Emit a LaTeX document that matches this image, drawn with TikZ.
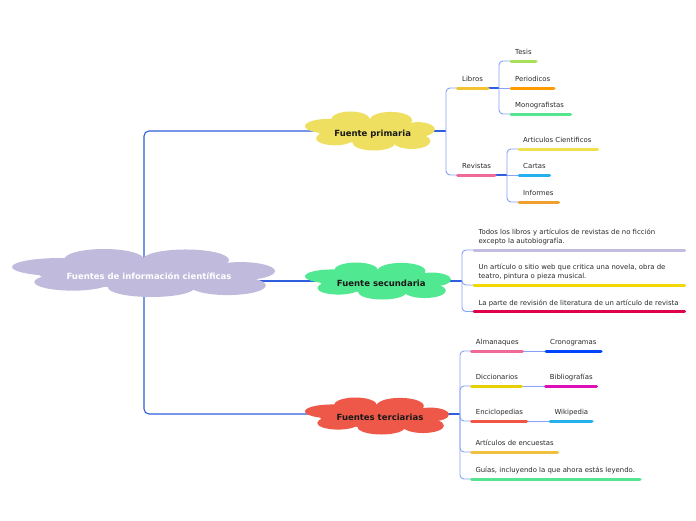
\documentclass[tikz,border=0pt]{standalone}
\usepackage{fontspec}
\setmainfont{DejaVu Sans}
\definecolor{mainblue}{HTML}{2F5FE0}
\definecolor{subblue}{HTML}{86A2F4}
\definecolor{labeltext}{HTML}{2A2A2A}
\definecolor{cCentral}{HTML}{C0BADC}
\definecolor{cPrim}{HTML}{EEDF60}
\definecolor{cSec}{HTML}{50E890}
\definecolor{cTer}{HTML}{EE5848}
\definecolor{uYellowOr}{HTML}{F2C233}
\definecolor{uLime}{HTML}{A8E05C}
\definecolor{uOrange}{HTML}{FF9A00}
\definecolor{uGreen}{HTML}{55E590}
\definecolor{uPink}{HTML}{F06A99}
\definecolor{uYellow}{HTML}{F0E050}
\definecolor{uCyan}{HTML}{25B0EE}
\definecolor{uOrange2}{HTML}{F0A030}
\definecolor{uLav}{HTML}{C2BDE0}
\definecolor{uGold}{HTML}{F0D800}
\definecolor{uCrimson}{HTML}{E0004A}
\definecolor{uBlue}{HTML}{0044FF}
\definecolor{uYellow2}{HTML}{E8D000}
\definecolor{uMagenta}{HTML}{E010B8}
\definecolor{uRed}{HTML}{F05545}
\definecolor{uMustard}{HTML}{F0C040}
\newcommand{\cloudshape}[5]{%
  \fill[#5] ({#1-0.63*#3},{#2-0.25*#4}) ellipse [x radius={0.37*#3*1pt}, y radius={0.375*#4*1pt}];
  \fill[#5] ({#1-0.30*#3},{#2-0.58*#4}) ellipse [x radius={0.30*#3*1pt}, y radius={0.42*#4*1pt}];
  \fill[#5] ({#1+0.32*#3},{#2-0.54*#4}) ellipse [x radius={0.33*#3*1pt}, y radius={0.44*#4*1pt}];
  \fill[#5] ({#1+0.74*#3},{#2-0.08*#4}) ellipse [x radius={0.26*#3*1pt}, y radius={0.375*#4*1pt}];
  \fill[#5] ({#1-0.54*#3},{#2+0.375*#4}) ellipse [x radius={0.29*#3*1pt}, y radius={0.36*#4*1pt}];
  \fill[#5] ({#1+0.06*#3},{#2+0.60*#4}) ellipse [x radius={0.33*#3*1pt}, y radius={0.40*#4*1pt}];
  \fill[#5] ({#1+0.64*#3},{#2+0.52*#4}) ellipse [x radius={0.29*#3*1pt}, y radius={0.40*#4*1pt}];
  \fill[#5] (#1,#2) ellipse [x radius={0.80*#3*1pt}, y radius={0.62*#4*1pt}];
}
\begin{document}
\begin{tikzpicture}[x=1pt,y=-1pt,
  mainline/.style={draw=mainblue, line width=1.1pt},
  subline/.style={draw=subblue, line width=0.9pt, rounded corners=4pt},
  ul/.style={line width=3pt, line cap=round},
  lbl/.style={anchor=base west, inner sep=0pt, text=labeltext, font=\fontsize{6.9}{9}\selectfont},
  lbltwo/.style={anchor=south west, inner sep=0pt, text=labeltext, align=left, font=\fontsize{6.9}{9}\selectfont},
  titletext/.style={anchor=base, inner sep=0pt, font=\bfseries\fontsize{8.5}{10}\selectfont}]
\useasboundingbox (0,0) rectangle (696,520);
\fill[white] (0,0) rectangle (696,520);

% ---- coordinates
\coordinate (hub) at (144,273);
\coordinate (primC) at (370,131);
\coordinate (secC) at (378,281);
\coordinate (terC) at (377,414);
\coordinate (jP) at (446,131);
\coordinate (jS) at (462,281);
\coordinate (jT) at (460,414);
\coordinate (jL) at (499,88);
\coordinate (jR) at (507,175);

% underline end points
\coordinate (librosL) at (457.5,88);   \coordinate (librosR) at (488,88);
\coordinate (tesisL) at (511,61);      \coordinate (tesisR) at (536,61);
\coordinate (perL) at (511,88);        \coordinate (perR) at (554,88);
\coordinate (monoL) at (511,114);      \coordinate (monoR) at (570.5,114);
\coordinate (revL) at (457.5,175);     \coordinate (revR) at (495,175);
\coordinate (artL) at (519,149);       \coordinate (artR) at (597.5,149);
\coordinate (carL) at (519,175);       \coordinate (carR) at (549.5,175);
\coordinate (infL) at (519,202);       \coordinate (infR) at (558.5,202);
\coordinate (s1L) at (474,250);        \coordinate (s1R) at (684.5,250);
\coordinate (s2L) at (474,285);        \coordinate (s2R) at (684.5,285);
\coordinate (s3L) at (474,311.5);      \coordinate (s3R) at (684.5,311.5);
\coordinate (almL) at (471.5,351);     \coordinate (almR) at (522.5,351);
\coordinate (croL) at (546,351);       \coordinate (croR) at (601,351);
\coordinate (dicL) at (471.5,386);     \coordinate (dicR) at (521.5,386);
\coordinate (bibL) at (545.5,386);     \coordinate (bibR) at (596.5,386);
\coordinate (encL) at (471.5,421);     \coordinate (encR) at (526.5,421);
\coordinate (wikL) at (550,421);       \coordinate (wikR) at (592,421);
\coordinate (aenL) at (471.5,452);     \coordinate (aenR) at (557.5,452);
\coordinate (guiL) at (471.5,479);     \coordinate (guiR) at (640,479);

% ---- connectors
\draw[mainline, rounded corners=5pt] (hub) |- (primC);
\draw[mainline, rounded corners=5pt] (hub) |- (terC);
\draw[mainline] (hub |- secC) -- (secC);

\draw[mainline] (primC) -- (jP);
\draw[subline] (jP) |- (librosL);
\draw[subline] (jP) |- (revL);
\draw[mainline] (librosR) -- (jL);
\draw[subline] (jL) |- (tesisL);
\draw[subline] (jL) |- (monoL);
\draw[subline] (jL) -- (perL);
\draw[mainline] (revR) -- (jR);
\draw[subline] (jR) |- (artL);
\draw[subline] (jR) |- (infL);
\draw[subline] (jR) -- (carL);

\draw[mainline] (secC) -- (jS);
\draw[subline] (jS) |- (s1L);
\draw[subline] (jS) |- (s2L);
\draw[subline] (jS) |- (s3L);

\draw[mainline] (terC) -- (jT);
\draw[subline] (jT) |- (almL);
\draw[subline] (jT) |- (dicL);
\draw[subline] (jT) |- (encL);
\draw[subline] (jT) |- (aenL);
\draw[subline] (jT) |- (guiL);
\draw[subline] (almR) -- (croL);
\draw[subline] (dicR) -- (bibL);
\draw[subline] (encR) -- (wikL);

% ---- underlines
\draw[ul, draw=uYellowOr] (librosL) -- (librosR);
\draw[ul, draw=uLime] (tesisL) -- (tesisR);
\draw[ul, draw=uOrange] (perL) -- (perR);
\draw[ul, draw=uGreen] (monoL) -- (monoR);
\draw[ul, draw=uPink] (revL) -- (revR);
\draw[ul, draw=uYellow] (artL) -- (artR);
\draw[ul, draw=uCyan] (carL) -- (carR);
\draw[ul, draw=uOrange2] (infL) -- (infR);
\draw[ul, draw=uLav] (s1L) -- (s1R);
\draw[ul, draw=uGold] (s2L) -- (s2R);
\draw[ul, draw=uCrimson] (s3L) -- (s3R);
\draw[ul, draw=uPink] (almL) -- (almR);
\draw[ul, draw=uBlue] (croL) -- (croR);
\draw[ul, draw=uYellow2] (dicL) -- (dicR);
\draw[ul, draw=uMagenta] (bibL) -- (bibR);
\draw[ul, draw=uRed] (encL) -- (encR);
\draw[ul, draw=uCyan] (wikL) -- (wikR);
\draw[ul, draw=uMustard] (aenL) -- (aenR);
\draw[ul, draw=uGreen] (guiL) -- (guiR);

% ---- clouds
\cloudshape{143.5}{273}{131.5}{24}{cCentral}
\cloudshape{370}{131}{65}{19.5}{cPrim}
\cloudshape{378}{281}{73}{18.5}{cSec}
\cloudshape{377}{416}{72}{18.5}{cTer}

\node[titletext, text=white] (central) at (149,279.3) {Fuentes de información científicas};
\node[titletext, text=black!90] (prim) at (372.7,136.7) {Fuente primaria};
\node[titletext, text=black!90] (sec) at (381.3,286.7) {Fuente secundaria};
\node[titletext, text=black!90] (ter) at (380,420.3) {Fuentes terciarias};

% ---- labels
\node[lbl] (libros) at (462,81.5) {Libros};
\node[lbl] (tesis) at (515,54.5) {Tesis};
\node[lbl] (periodicos) at (515,81.5) {Periodicos};
\node[lbl] (mono) at (515,107.5) {Monografistas};
\node[lbl] (revistas) at (462,168.5) {Revistas};
\node[lbl] (articulos) at (523,142.5) {Articulos Cientificos};
\node[lbl] (cartas) at (523,168.5) {Cartas};
\node[lbl] (informes) at (523,195.5) {Informes};

\node[lbltwo] (s1) at (478.3,245) {Todos los libros y artículos de revistas de no ficción\\excepto la autobiografía.};
\node[lbltwo] (s2) at (478.3,280) {Un artículo o sitio web que critica una novela, obra de\\teatro, pintura o pieza musical.};
\node[lbl] (s3) at (478.3,305) {La parte de revisión de literatura de un artículo de revista};

\node[lbl] (alm) at (475.7,344.5) {Almanaques};
\node[lbl] (cro) at (550,344.5) {Cronogramas};
\node[lbl] (dic) at (475.7,379.5) {Diccionarios};
\node[lbl] (bib) at (549.7,379.5) {Bibliografías};
\node[lbl] (enc) at (475.7,414.5) {Enciclopedias};
\node[lbl] (wik) at (554.3,414.5) {Wikipedia};
\node[lbl] (aen) at (475.3,445.5) {Artículos de encuestas};
\node[lbl] (gui) at (475.3,472.5) {Guías, incluyendo la que ahora estás leyendo.};
\end{tikzpicture}
\end{document}
